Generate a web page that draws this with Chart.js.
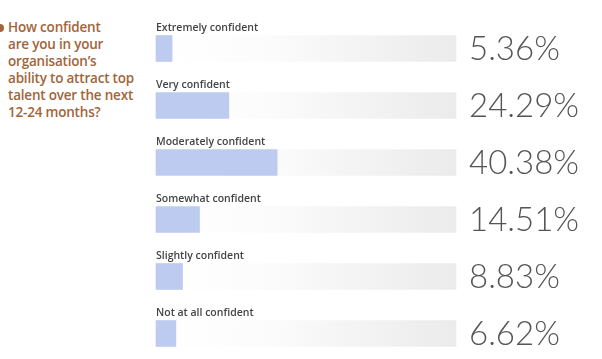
<!DOCTYPE html>
<html>
<head>
<meta charset="utf-8">
<script src="https://cdn.jsdelivr.net/npm/chart.js@4"></script>
<style>
  html, body { margin: 0; padding: 0; background: #fff; overflow: hidden; }
  #wrap { position: relative; width: 602px; height: 359px; }
  #question {
    position: absolute; left: 8px; top: 19px; width: 145px;
    font-family: "Open Sans", sans-serif; font-weight: 600; font-size: 13.5px;
    letter-spacing: -0.2px; line-height: 17px; color: #a2643a;
    white-space: nowrap;
  }
  #question::before {
    content: ""; position: absolute; left: -12px; top: 5px;
    width: 8px; height: 8px; border-radius: 50%; background: #a2643a;
  }
  canvas { position: absolute; left: 0; top: 0; }
</style>
</head>
<body>
<div id="wrap">
  <div id="question">How confident<br>are you in your<br>organisation’s<br>ability to attract top<br>talent over the next<br>12-24 months?</div>
  <canvas id="chart" width="602" height="359"></canvas>
</div>
<script>
const categories = [
  "Extremely confident",
  "Very confident",
  "Moderately confident",
  "Somewhat confident",
  "Slightly confident",
  "Not at all confident",
];
const shares = [5.36, 24.29, 40.38, 14.51, 8.83, 6.62];
const track = categories.map(() => 100);

// labels above each bar, percentages to the right of the track
const rowText = {
  id: "rowText",
  afterDatasetsDraw(chart) {
    const { ctx, scales: { x, y } } = chart;
    ctx.save();
    categories.forEach((label, i) => {
      const cy = y.getPixelForValue(i);
      ctx.fillStyle = "#444";
      ctx.font = "600 10.5px 'Open Sans', sans-serif";
      ctx.textAlign = "left";
      ctx.textBaseline = "middle";
      ctx.fillText(label, x.getPixelForValue(0), cy - 20.5);
      ctx.fillStyle = "#555";
      ctx.font = "300 33px Lato, sans-serif";
      ctx.fillText(shares[i].toFixed(2) + "%", x.getPixelForValue(100) + 13, cy + 1);
    });
    ctx.restore();
  },
};

new Chart(document.getElementById("chart"), {
  type: "bar",
  data: {
    labels: categories,
    datasets: [
      {
        data: shares,
        backgroundColor: "#bdcbf0",
        barThickness: 26,
        grouped: false,
        order: 0,
        clip: false,
      },
      {
        data: track,
        backgroundColor(c) {
          const area = c.chart.chartArea;
          if (!area) return "#f2f2f2";
          const g = c.chart.ctx.createLinearGradient(area.left, 0, area.right, 0);
          g.addColorStop(0, "#ffffff");
          g.addColorStop(0.35, "#fcfcfc");
          g.addColorStop(1, "#ebebeb");
          return g;
        },
        barThickness: 26,
        grouped: false,
        order: 1,
        clip: false,
      },
    ],
  },
  options: {
    indexAxis: "y",
    responsive: false,
    animation: false,
    layout: { padding: { left: 156, right: 146, top: 48.5, bottom: 25.5 } },
    plugins: { legend: { display: false }, tooltip: { enabled: false } },
    scales: {
      x: { min: 0, max: 100, display: false },
      y: { display: false, offset: false },
    },
  },
  plugins: [rowText],
});
</script>
</body>
</html>
